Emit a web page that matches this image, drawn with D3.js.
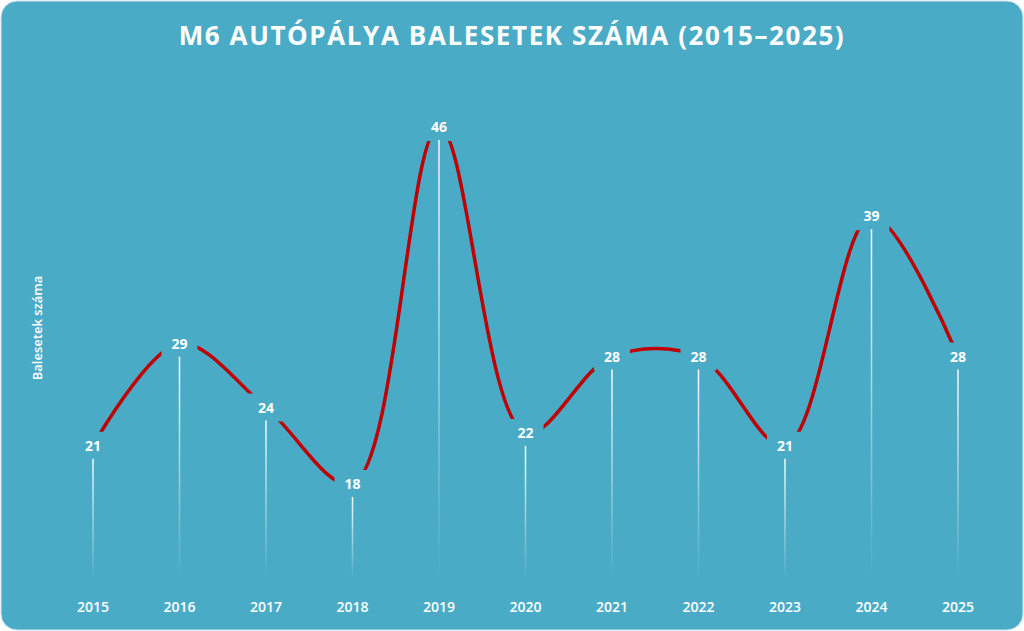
<!DOCTYPE html><html><head><meta charset="utf-8">
<script src="https://cdn.jsdelivr.net/npm/d3@7"></script>
<style>body{margin:0;background:#fff}</style></head><body><svg id="c" width="1024" height="631"></svg>
<script>
const years=["2015","2016","2017","2018","2019","2020","2021","2022","2023","2024","2025"];
const values=[21,29,24,18,46,22,28,28,21,39,28];
const svg=d3.select("#c");
svg.append("rect").attr("x",1).attr("y",1).attr("width",1022).attr("height",629).attr("rx",16).attr("fill","#4aabc6").attr("stroke","#d0e4ea");
svg.append("text").attr("x",512).attr("y",45).attr("text-anchor","middle").attr("fill","#fff").attr("font-family","Open Sans").attr("font-weight","bold").attr("font-size",26).attr("letter-spacing",1.6).text("M6 AUTÓPÁLYA BALESETEK SZÁMA (2015–2025)");
const x=d3.scalePoint().domain(years).range([93,958]);
const y=d3.scaleLinear().domain([18,46]).range([484,127]);
const defs=svg.append("defs");
const g=defs.append("linearGradient").attr("id","sg").attr("x1",0).attr("y1",0).attr("x2",0).attr("y2",1);
g.append("stop").attr("offset",0).attr("stop-color","#fff").attr("stop-opacity",0.95);
g.append("stop").attr("offset",1).attr("stop-color","#fff").attr("stop-opacity",0);
const m=defs.append("mask").attr("id","mk").attr("maskUnits","userSpaceOnUse");
m.append("rect").attr("width",1024).attr("height",631).attr("fill","#fff");
m.selectAll("rect.h").data(values).join("rect").attr("class","h").attr("x",(d,i)=>x(years[i])-18).attr("y",d=>y(d)-14).attr("width",36).attr("height",28).attr("fill","#000");
svg.selectAll("rect.st").data(values).join("rect").attr("class","st").attr("x",(d,i)=>x(years[i])-0.75).attr("y",d=>y(d)+13).attr("width",1.5).attr("height",d=>580-y(d)-13).attr("fill","url(#sg)");
svg.append("path").datum(values).attr("mask","url(#mk)").attr("fill","none").attr("stroke","#c00000").attr("stroke-width",3.5)
 .attr("d",d3.line().x((d,i)=>x(years[i])).y(d=>y(d)).curve(d3.curveCatmullRom.alpha(0.5)));
svg.selectAll("text.v").data(values).join("text").attr("class","v").attr("x",(d,i)=>x(years[i])).attr("y",d=>y(d)+5).attr("text-anchor","middle").attr("fill","#fff").attr("font-family","Open Sans").attr("font-weight","bold").attr("font-size",14).text(d=>d);
svg.selectAll("text.t").data(years).join("text").attr("class","t").attr("x",d=>x(d)).attr("y",612).attr("text-anchor","middle").attr("fill","#fff").attr("font-family","Open Sans").attr("font-weight","600").attr("font-size",14).text(d=>d);
svg.append("text").attr("transform","translate(42,328) rotate(-90)").attr("text-anchor","middle").attr("fill","#fff").attr("font-family","Open Sans").attr("font-weight","600").attr("font-size",13).text("Balesetek száma");
</script></body></html>
